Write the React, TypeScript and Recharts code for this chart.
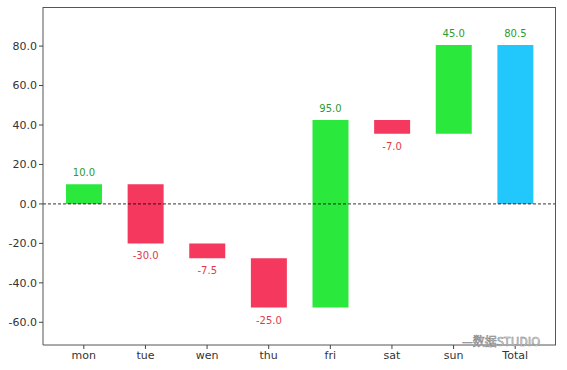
import React from "react";
import { BarChart, Bar, XAxis, YAxis, Cell, ReferenceLine, LabelList } from "recharts";

const categories = ["mon", "tue", "wen", "thu", "fri", "sat", "sun"];
const changes = [10, -30, -7.5, -25, 95, -7, 45];
const totalLabel = "Total";
const yTicks = [-60, -40, -20, 0, 20, 40, 60, 80];

const GREEN = "#2ae83c";
const RED = "#f4385e";
const BLUE = "#22c8fb";
const GREEN_TXT = "#2e9a2e";
const RED_TXT = "#e23a4a";

type Row = { name: string; range: [number, number]; change: number; kind: string };

const rows: Row[] = (() => {
  const out: Row[] = [];
  let cum = 0;
  categories.forEach((c, i) => {
    const start = cum;
    cum += changes[i];
    out.push({
      name: c,
      range: [Math.min(start, cum), Math.max(start, cum)],
      change: changes[i],
      kind: changes[i] >= 0 ? "up" : "down",
    });
  });
  out.push({ name: totalLabel, range: [0, cum], change: cum, kind: "total" });
  return out;
})();

const colorFor = (k: string) => (k === "up" ? GREEN : k === "down" ? RED : BLUE);

const renderLabel = (props: any) => {
  const { x, y, width, height, index } = props;
  const r = rows[index];
  const top = Math.min(y, y + height);
  const bottom = Math.max(y, y + height);
  const neg = r.change < 0;
  const cy = neg ? bottom + 13 : top - 11;
  return (
    <text
      x={x + width / 2}
      y={cy}
      textAnchor="middle"
      dominantBaseline="middle"
      fontSize={10}
      fontFamily="DejaVu Sans"
      fill={neg ? RED_TXT : GREEN_TXT}
    >
      {r.change.toFixed(1)}
    </text>
  );
};

export default function App() {
  return (
    <div style={{ position: "absolute", left: 0, top: 0, width: 567, height: 370, background: "#fff" }}>
      <BarChart
        width={567}
        height={370}
        data={rows}
        margin={{ top: 7, right: 11, left: 0, bottom: 0 }}
        style={{ fontFamily: "DejaVu Sans" }}
      >
        <XAxis
          dataKey="name"
          height={25}
          padding={{ left: 10, right: 10 }}
          tick={{ fontSize: 11, fill: "#333" }}
          tickSize={4}
          tickLine={{ stroke: "#444" }}
          axisLine={{ stroke: "#555" }}
        />
        <YAxis
          width={43}
          domain={[-71.5, 99.8]}
          ticks={yTicks}
          allowDataOverflow
          tickFormatter={(v: number) => v.toFixed(1)}
          tick={{ fontSize: 11, fill: "#333" }}
          tickSize={4}
          tickLine={{ stroke: "#444" }}
          axisLine={{ stroke: "#555" }}
        />
        <ReferenceLine y={0} stroke="#000" strokeWidth={0.8} strokeDasharray="3 2" />
        <Bar dataKey="range" barSize={36} isAnimationActive={false}>
          {rows.map((r, i) => (
            <Cell key={i} fill={colorFor(r.kind)} />
          ))}
          <LabelList dataKey="change" content={renderLabel} />
        </Bar>
      </BarChart>
      <div
        style={{
          position: "absolute",
          left: 43,
          top: 7,
          width: 513,
          height: 338,
          boxSizing: "border-box",
          borderTop: "1px solid #555",
          borderRight: "1px solid #555",
          pointerEvents: "none",
        }}
      />
      <div
        style={{
          position: "absolute",
          left: 462,
          top: 334,
          fontSize: 12,
          lineHeight: "14px",
          fontFamily: "Noto Sans CJK SC",
          color: "#fff",
          WebkitTextStroke: "0.6px #888",
        }}
      >
        —数据STUDIO
      </div>
    </div>
  );
}
